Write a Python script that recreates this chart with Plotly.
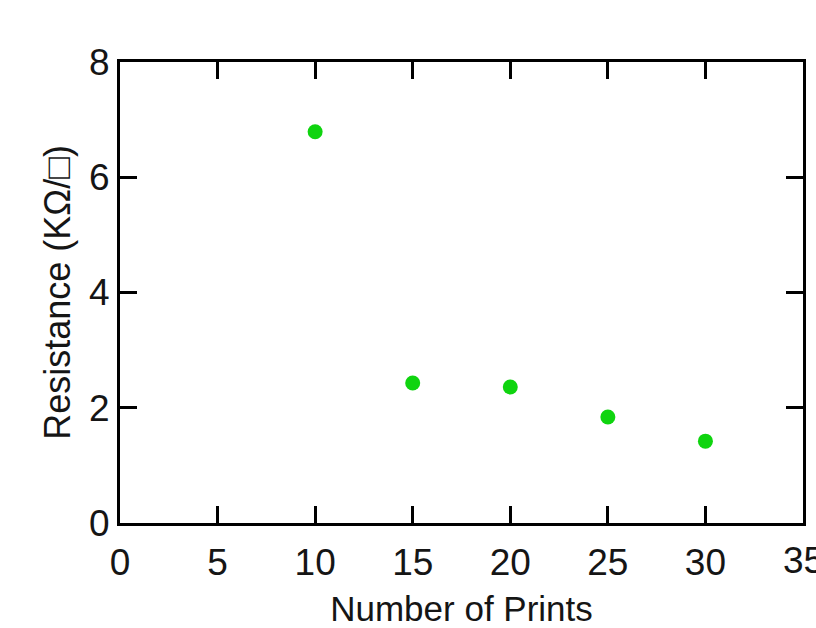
import plotly.graph_objects as go

# Sheet resistance versus number of print passes
prints = [10, 15, 20, 25, 30]
resistance = [6.79, 2.43, 2.36, 1.84, 1.42]

x_ticks = [0, 5, 10, 15, 20, 25, 30]
x_last_tick = 35
y_ticks = [0, 2, 4, 6, 8]

font_family = "Liberation Sans, Arial, sans-serif"
text_color = "#151515"

fig = go.Figure(
    go.Scatter(
        x=prints,
        y=resistance,
        mode="markers",
        marker=dict(color="#0fd40f", size=15, line=dict(width=0)),
        showlegend=False,
        cliponaxis=False,
    )
)

axis_common = dict(
    showline=True,
    linecolor="black",
    linewidth=3,
    mirror="ticks",
    ticks="inside",
    ticklen=17,
    tickwidth=3,
    tickcolor="black",
    showgrid=False,
    zeroline=False,
    automargin=False,
    tickfont=dict(family=font_family, size=37, color=text_color),
)

fig.update_xaxes(
    range=[0, 35],
    tickvals=x_ticks + [x_last_tick],
    ticktext=[str(v) for v in x_ticks] + [""],
    ticklabelstandoff=5,
    title=dict(text="Number of Prints", font=dict(family=font_family, size=35, color=text_color), standoff=20),
    **axis_common,
)
fig.update_yaxes(
    range=[0, 8],
    tickvals=y_ticks,
    ticktext=[str(v) for v in y_ticks],
    title=dict(text="Resistance (KΩ/□)", font=dict(family=font_family, size=36, color=text_color), standoff=8),
    **axis_common,
)

# the last x label runs off the right edge of the page
fig.add_annotation(
    x=x_last_tick, y=0, xref="x", yref="paper",
    text=str(x_last_tick), showarrow=False,
    xanchor="center", yanchor="top", yshift=-15,
    font=dict(family=font_family, size=37, color=text_color),
)

fig.update_layout(
    width=816,
    height=628,
    margin=dict(l=120, r=13, t=62, b=105),
    paper_bgcolor="white",
    plot_bgcolor="white",
)

fig.write_html("out.html")
